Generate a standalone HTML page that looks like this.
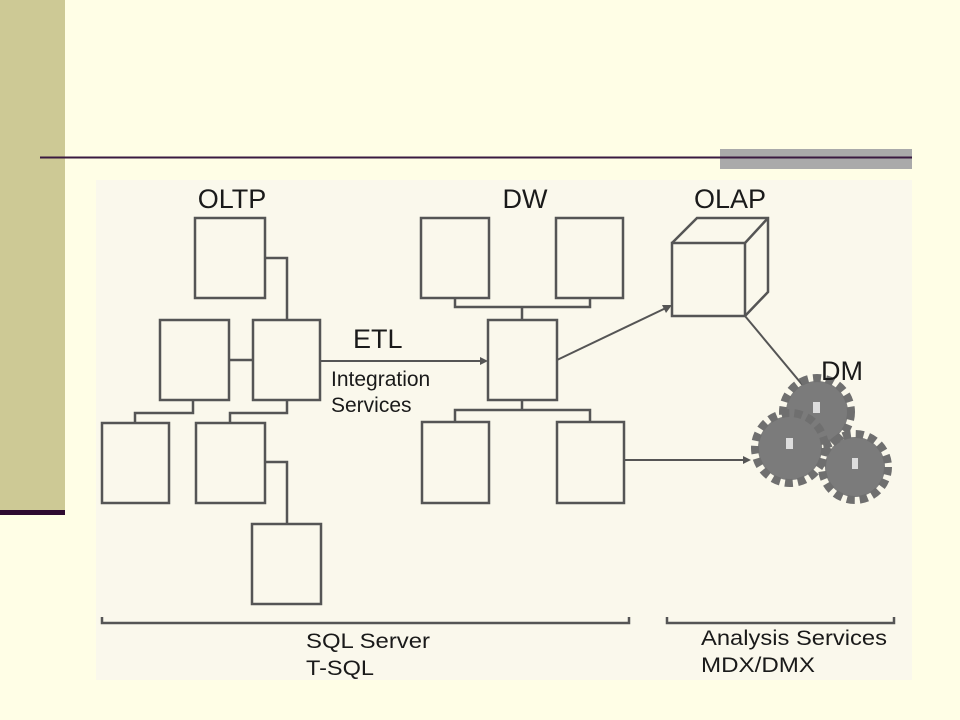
<!DOCTYPE html>
<html><head><meta charset="utf-8"><style>
html,body{margin:0;padding:0}
body{width:960px;height:720px;background:#fffee6;position:relative;overflow:hidden;font-family:"Liberation Sans",Arial,sans-serif}
</style></head><body>
<svg width="960" height="720" style="position:absolute;left:0;top:0" xmlns="http://www.w3.org/2000/svg">
<rect x="0" y="0" width="65" height="510" fill="#cdc995"/>
<rect x="0" y="510" width="65" height="5" fill="#2e0a30"/>
<rect x="720" y="149" width="192" height="20" fill="#aaaaaa"/>
<line x1="40" y1="157.5" x2="912" y2="157.5" stroke="#3a1a40" stroke-width="2"/>
<rect x="96" y="180" width="816" height="500" fill="#faf8ec"/>
<g fill="none" stroke="#555" stroke-width="2.5">
<rect x="195" y="218" width="70" height="80"/>
<rect x="160" y="320" width="69" height="80"/>
<rect x="253" y="320" width="67" height="80"/>
<rect x="102" y="423" width="67" height="80"/>
<rect x="196" y="423" width="69" height="80"/>
<rect x="252" y="524" width="69" height="80"/>
<polyline points="265,258 287,258 287,320"/>
<line x1="229" y1="360" x2="253" y2="360"/>
<polyline points="193,400 193,413 135,413 135,423"/>
<polyline points="287,400 287,413 230,413 230,423"/>
<polyline points="265,462 287,462 287,524"/>
<rect x="421" y="218" width="68" height="80"/>
<rect x="556" y="218" width="67" height="80"/>
<rect x="488" y="320" width="69" height="80"/>
<rect x="422" y="422" width="67" height="81"/>
<rect x="557" y="422" width="67" height="81"/>
<polyline points="455,298 455,307 590,307 590,298"/>
<line x1="522" y1="307" x2="522" y2="320"/>
<line x1="522" y1="400" x2="522" y2="410"/>
<polyline points="455,422 455,410 590,410 590,422"/>
<rect x="672" y="243" width="73" height="73"/>
<polyline points="672,243 697,218 768,218 768,292 745,316"/>
<line x1="745" y1="243" x2="768" y2="218"/>
<line x1="320" y1="361" x2="484" y2="361" stroke-width="2"/>
<line x1="557" y1="360" x2="668" y2="307" stroke-width="2"/>
<line x1="745" y1="316" x2="805" y2="388" stroke-width="2"/>
<line x1="624" y1="460" x2="746" y2="460" stroke-width="2"/>
<polyline points="102,617 102,623 629,623 629,617" stroke-width="2.5"/>
<polyline points="667,617 667,623 894,623 894,617" stroke-width="2.5"/>
</g>
<g fill="#555">
<polygon points="488,361 480,357 480,365"/>
<polygon points="672,305 662,305 666,313"/>
<polygon points="808,392 800,388 806,382"/>
<polygon points="751,460 743,456 743,464"/>
</g>
<g>
<circle cx="817" cy="412" r="31" fill="#7b7b7b"/>
<circle cx="817" cy="412" r="34" fill="none" stroke="#6f6f6f" stroke-width="8" stroke-dasharray="8 5"/>
<rect x="813" y="402" width="7" height="11" fill="#ddd"/>
<circle cx="790" cy="448" r="32" fill="#7b7b7b"/>
<circle cx="790" cy="448" r="35" fill="none" stroke="#6f6f6f" stroke-width="8" stroke-dasharray="8 5"/>
<rect x="786" y="438" width="7" height="11" fill="#ddd"/>
<circle cx="855" cy="467" r="30" fill="#7b7b7b"/>
<circle cx="855" cy="467" r="33" fill="none" stroke="#6f6f6f" stroke-width="8" stroke-dasharray="8 5"/>
<rect x="852" y="458" width="6" height="11" fill="#ddd"/>
</g>
<g fill="#1a1a1a" font-family="Liberation Sans, Arial, sans-serif">
<text x="232" y="208" font-size="27" text-anchor="middle">OLTP</text>
<text x="525" y="208" font-size="27" text-anchor="middle">DW</text>
<text x="730" y="208" font-size="27" text-anchor="middle">OLAP</text>
<text x="842" y="380" font-size="27" text-anchor="middle">DM</text>
<text x="353" y="348" font-size="27">ETL</text>
<text x="331" y="386" font-size="21">Integration</text>
<text x="331" y="412" font-size="21">Services</text>
<text x="306" y="648" font-size="21" textLength="124" lengthAdjust="spacingAndGlyphs">SQL Server</text>
<text x="306" y="675" font-size="21" textLength="68" lengthAdjust="spacingAndGlyphs">T-SQL</text>
<text x="701" y="645" font-size="21" textLength="186" lengthAdjust="spacingAndGlyphs">Analysis Services</text>
<text x="701" y="672" font-size="21" textLength="114" lengthAdjust="spacingAndGlyphs">MDX/DMX</text>
</g>
</svg>
</body></html>
